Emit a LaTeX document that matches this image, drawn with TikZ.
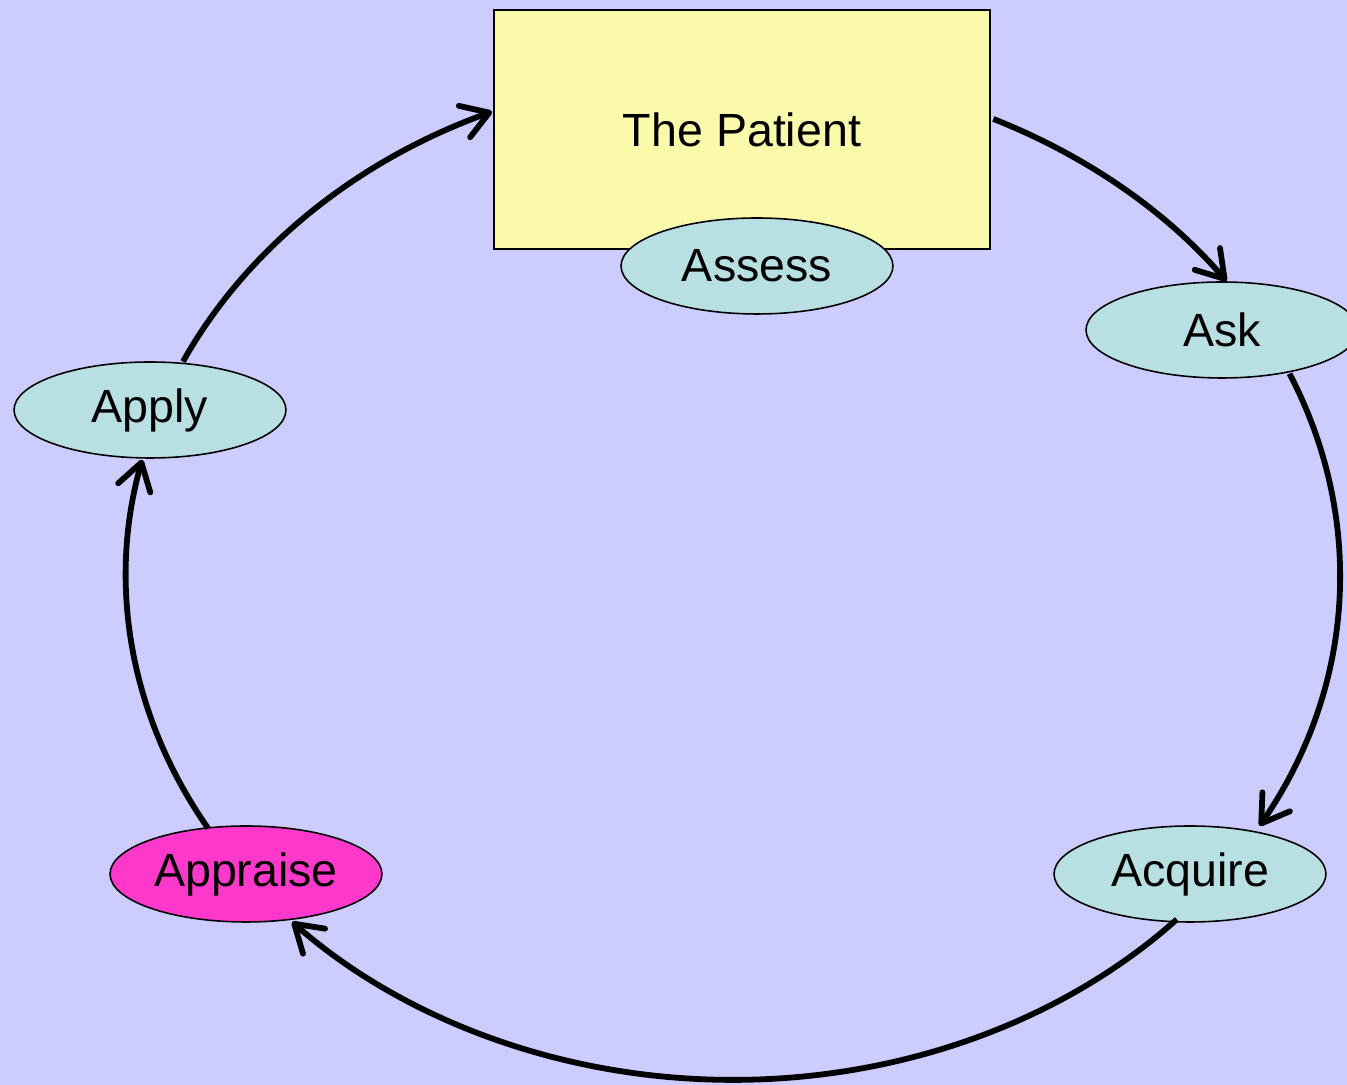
\documentclass[tikz,border=0pt]{standalone}
\usepackage{fontspec}
\setmainfont{Liberation Sans}
\usetikzlibrary{shapes.geometric,arrows.meta,calc}
\definecolor{bgc}{HTML}{CCCCFF}
\definecolor{boxc}{HTML}{FAFAAA}
\definecolor{ellc}{HTML}{B8E0E2}
\definecolor{pinkc}{HTML}{FF38CC}
\tikzset{
  stepell/.style={ellipse,draw=black,line width=0.9pt,fill=ellc,minimum width=5.44cm,minimum height=1.92cm,inner sep=0pt,font=\fontsize{26.5}{30}\selectfont},
  patientbox/.style={rectangle,draw=black,line width=1pt,fill=boxc,minimum width=9.92cm,minimum height=4.78cm,inner sep=0pt,font=\fontsize{26.5}{30}\selectfont},
  conn/.style={line width=3.3pt,-{Straight Barb[length=15pt,width=19pt,round]}}
}
\begin{document}
\begin{tikzpicture}[x=0.02cm,y=0.02cm]
\useasboundingbox (0,0) rectangle (1347,1085);
\clip (0,0) rectangle (1347,1085);
\fill[bgc] (0,0) rectangle (1347,1085);
\coordinate (c) at (733,510);
\node[patientbox] (patient) at (742,955.5) {The Patient};
\node[stepell] (assess) at (757,819) {Assess};
\node[stepell] (ask) at (1222,755) {Ask};
\node[stepell] (apply) at (150,675) {Apply};
\node[stepell,fill=pinkc] (appraise) at (246,211) {Appraise};
\node[stepell] (acquire) at (1190,211) {Acquire};
\coordinate (s1) at ($(c)+(64.6:12.14cm and 10.1cm)$);
\coordinate (s2) at ($(c)+(23.5:12.14cm and 10.1cm)$);
\coordinate (s3) at ($(c)+(-43:12.14cm and 10.1cm)$);
\coordinate (s4) at ($(c)+(210.1:12.14cm and 10.1cm)$);
\coordinate (s5) at ($(c)+(155:12.14cm and 10.1cm)$);
\draw[conn] (s1) arc[start angle=64.6,end angle=35.6,x radius=12.14cm,y radius=10.1cm];
\draw[conn] (s2) arc[start angle=23.5,end angle=-29.8,x radius=12.14cm,y radius=10.1cm];
\draw[conn] (s3) arc[start angle=-43,end angle=-136.6,x radius=12.14cm,y radius=10.1cm];
\draw[conn] (s4) arc[start angle=210.1,end angle=166.8,x radius=12.14cm,y radius=10.1cm];
\draw[conn] (s5) arc[start angle=155,end angle=113.4,x radius=12.14cm,y radius=10.1cm];
\end{tikzpicture}
\end{document}
